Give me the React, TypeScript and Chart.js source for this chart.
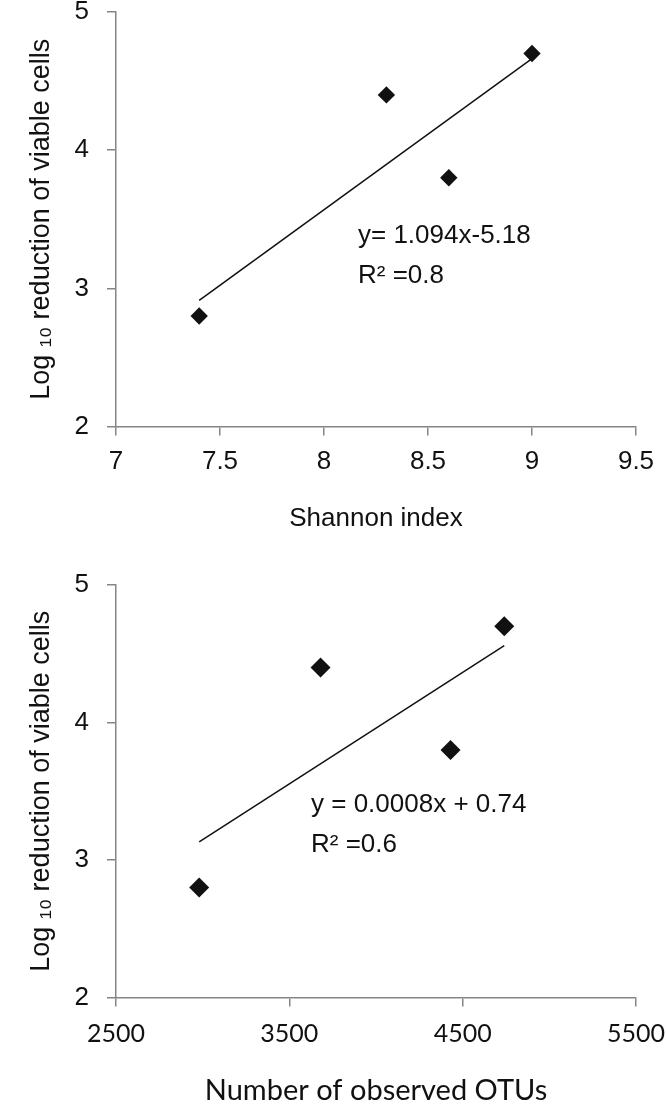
import React, { useEffect, useRef } from "react";
import { Chart, registerables } from "chart.js";

Chart.register(...registerables);

// ---- data ----
const reduction = [2.8, 4.4, 3.8, 4.7];
const shannonIndex = [7.4, 8.3, 8.6, 9.0];
const observedOTUs = [2980, 3680, 4430, 4740];
const shannonTicks = [7, 7.5, 8, 8.5, 9, 9.5];
const otuTicks = [2500, 3500, 4500, 5500];
const reductionTicks = [2, 3, 4, 5];
const yTitle = "Log ₁₀ reduction of viable cells";
const topXTitle = "Shannon index";
const bottomXTitle = "Number of observed OTUs";
const topEquation = ["y= 1.094x-5.18", "R² =0.8"];
const bottomEquation = ["y = 0.0008x + 0.74", "R² =0.6"];

const AXIS = "#858585";
const INK = "#111111";
const ARIAL = "'Liberation Sans', Arial, sans-serif";
const LATO = "Lato, 'Open Sans', sans-serif";

function linearFit(xs: number[], ys: number[]) {
  const n = xs.length;
  const mx = xs.reduce((a, b) => a + b, 0) / n;
  const my = ys.reduce((a, b) => a + b, 0) / n;
  let sxy = 0;
  let sxx = 0;
  for (let i = 0; i < n; i++) {
    sxy += (xs[i] - mx) * (ys[i] - my);
    sxx += (xs[i] - mx) * (xs[i] - mx);
  }
  const m = sxy / sxx;
  return { m, b: my - m * mx };
}

const equationPlugin = {
  id: "equationText",
  afterDatasetsDraw(chart: any, _args: any, opts: any) {
    if (!opts || !opts.lines) return;
    const ctx = chart.ctx;
    ctx.save();
    ctx.fillStyle = INK;
    ctx.font = opts.font;
    ctx.textAlign = "left";
    ctx.textBaseline = "alphabetic";
    opts.lines.forEach((line: string, i: number) => {
      ctx.fillText(line, opts.x, opts.y + i * opts.dy);
    });
    ctx.restore();
  },
};

type Cfg = {
  xs: number[];
  ys: number[];
  xTicks: number[];
  xTitle: string;
  tickFont: any;
  xTitleFont: any;
  xTickPad: number;
  xTitlePad: number;
  canvasH: number;
  areaTop: number;
  areaBottom: number;
  radius: number;
  eq: string[];
  eqX: number;
  eqY: number;
};

function makeConfig(c: Cfg): any {
  const fit = linearFit(c.xs, c.ys);
  const xMin = Math.min(...c.xs);
  const xMax = Math.max(...c.xs);
  const points = c.xs.map((x, i) => ({ x, y: c.ys[i] }));
  const trend = [
    { x: xMin, y: fit.m * xMin + fit.b },
    { x: xMax, y: fit.m * xMax + fit.b },
  ];
  const xScaleH = c.canvasH - c.areaBottom;
  return {
    type: "scatter",
    data: {
      datasets: [
        {
          data: points,
          pointStyle: "rectRot",
          pointRadius: c.radius,
          pointHoverRadius: c.radius,
          backgroundColor: INK,
          borderColor: INK,
          borderWidth: 0,
          showLine: false,
        },
        {
          type: "line",
          data: trend,
          borderColor: INK,
          borderWidth: 1.5,
          pointRadius: 0,
          fill: false,
          showLine: true,
          tension: 0,
        },
      ],
    },
    options: {
      animation: false,
      responsive: false,
      devicePixelRatio: 1,
      layout: { padding: { top: c.areaTop, right: 30, left: 0, bottom: 0 } },
      plugins: {
        legend: { display: false },
        tooltip: { enabled: false },
        equationText: {
          lines: c.eq,
          x: c.eqX,
          y: c.eqY,
          dy: 40,
          font: `26px ${ARIAL}`,
        },
      },
      scales: {
        x: {
          type: "linear",
          min: c.xTicks[0],
          max: c.xTicks[c.xTicks.length - 1],
          afterBuildTicks: (s: any) => {
            s.ticks = c.xTicks.map((v) => ({ value: v }));
          },
          afterFit: (s: any) => {
            s.height = xScaleH;
            s.paddingLeft = 0;
            s.paddingRight = 0;
          },
          ticks: {
            font: c.tickFont,
            color: INK,
            padding: c.xTickPad,
            maxRotation: 0,
            autoSkip: false,
            callback: (v: any) => String(v),
          },
          grid: {
            drawOnChartArea: false,
            drawTicks: true,
            tickLength: 9,
            color: AXIS,
            lineWidth: 1.5,
          },
          border: { display: true, color: AXIS, width: 1.5 },
          title: {
            display: true,
            text: c.xTitle,
            color: INK,
            font: c.xTitleFont,
            padding: { top: 0, bottom: c.xTitlePad },
          },
        },
        y: {
          type: "linear",
          min: reductionTicks[0],
          max: reductionTicks[reductionTicks.length - 1],
          afterBuildTicks: (s: any) => {
            s.ticks = reductionTicks.map((v) => ({ value: v }));
          },
          afterFit: (s: any) => {
            s.width = 116;
            s.paddingTop = 0;
            s.paddingBottom = 0;
          },
          ticks: {
            font: { family: ARIAL, size: 26 },
            color: INK,
            padding: 18,
            callback: (v: any) => String(v),
          },
          grid: {
            drawOnChartArea: false,
            drawTicks: true,
            tickLength: 9,
            color: AXIS,
            lineWidth: 1.5,
          },
          border: { display: true, color: AXIS, width: 1.5 },
          title: {
            display: true,
            text: yTitle,
            color: INK,
            font: { family: ARIAL, size: 27 },
            padding: { top: 25, bottom: 0 },
          },
        },
      },
    },
    plugins: [equationPlugin],
  };
}

function ScatterPanel({ cfg, top }: { cfg: Cfg; top: number }) {
  const ref = useRef<HTMLCanvasElement | null>(null);
  useEffect(() => {
    if (!ref.current) return;
    const chart = new Chart(ref.current, makeConfig(cfg));
    return () => chart.destroy();
  }, []);
  return (
    <canvas
      ref={ref}
      width={666}
      height={cfg.canvasH}
      style={{ position: "absolute", left: 0, top, width: 666, height: cfg.canvasH }}
    />
  );
}

const topCfg: Cfg = {
  xs: shannonIndex,
  ys: reduction,
  xTicks: shannonTicks,
  xTitle: topXTitle,
  tickFont: { family: ARIAL, size: 26 },
  xTitleFont: { family: ARIAL, size: 26 },
  xTickPad: 11,
  xTitlePad: 26,
  canvasH: 560,
  areaTop: 12,
  areaBottom: 426.5,
  radius: 8.7,
  eq: topEquation,
  eqX: 358,
  eqY: 243,
};

const bottomCfg: Cfg = {
  xs: observedOTUs,
  ys: reduction,
  xTicks: otuTicks,
  xTitle: bottomXTitle,
  tickFont: { family: LATO, size: 25 },
  xTitleFont: { family: LATO, size: 29 },
  xTickPad: 12.5,
  xTitlePad: 0,
  canvasH: 548,
  areaTop: 25,
  areaBottom: 437.5,
  radius: 10,
  eq: bottomEquation,
  eqX: 311,
  eqY: 252,
};

export default function App() {
  return (
    <div
      style={{
        position: "absolute",
        left: 0,
        top: 0,
        width: 666,
        height: 1108,
        background: "#ffffff",
        overflow: "hidden",
      }}
    >
      <ScatterPanel cfg={topCfg} top={0} />
      <ScatterPanel cfg={bottomCfg} top={560} />
    </div>
  );
}
